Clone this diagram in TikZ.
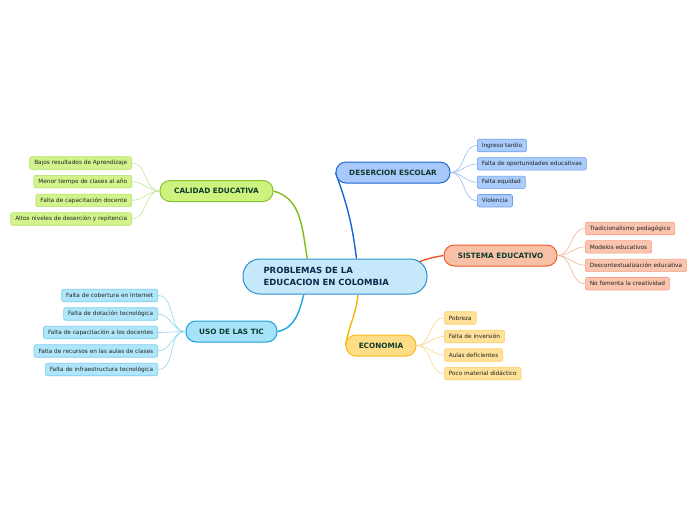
\documentclass[tikz,border=0pt]{standalone}
\usepackage{fontspec}
\setmainfont{DejaVu Sans}
\usetikzlibrary{positioning,backgrounds,calc}
\definecolor{hubFill}{HTML}{C5E9FA}
\definecolor{hubEdge}{HTML}{2F8ED0}
\definecolor{hubText}{HTML}{10294A}
\definecolor{topicText}{HTML}{0D3B2B}
\definecolor{leafText}{HTML}{222222}
% calidad
\definecolor{calFill}{HTML}{CDF27E}
\definecolor{calEdge}{HTML}{86C232}
\definecolor{calLeaf}{HTML}{D3F48C}
\definecolor{calLeafEdge}{HTML}{B2E067}
\definecolor{calWire}{HTML}{84BB1A}
\definecolor{calTwig}{HTML}{C5E39A}
% desercion
\definecolor{desFill}{HTML}{A6C8FA}
\definecolor{desEdge}{HTML}{2266D6}
\definecolor{desLeaf}{HTML}{A9CCFB}
\definecolor{desLeafEdge}{HTML}{6C9EEA}
\definecolor{desWire}{HTML}{1565D8}
\definecolor{desTwig}{HTML}{9ABDEE}
% sistema
\definecolor{sisFill}{HTML}{F9C0A8}
\definecolor{sisEdge}{HTML}{EE5B2B}
\definecolor{sisLeaf}{HTML}{FAC4AF}
\definecolor{sisLeafEdge}{HTML}{F2A184}
\definecolor{sisWire}{HTML}{F25522}
\definecolor{sisTwig}{HTML}{F5B39A}
% tic
\definecolor{ticFill}{HTML}{A6E2F8}
\definecolor{ticEdge}{HTML}{1E9FDD}
\definecolor{ticLeaf}{HTML}{B0E6F9}
\definecolor{ticLeafEdge}{HTML}{7ECDEE}
\definecolor{ticWire}{HTML}{18A3E2}
\definecolor{ticTwig}{HTML}{8FD5F2}
% economia
\definecolor{ecoFill}{HTML}{FFDC86}
\definecolor{ecoEdge}{HTML}{F8BA1C}
\definecolor{ecoLeaf}{HTML}{FFE199}
\definecolor{ecoLeafEdge}{HTML}{FAD06A}
\definecolor{ecoWire}{HTML}{F7B500}
\definecolor{ecoTwig}{HTML}{FBD78A}

\tikzset{
  hub/.style={draw=hubEdge, fill=hubFill, line width=1pt, rounded corners=17pt,
    minimum height=35pt, text width=143pt, inner xsep=20.5pt, align=left,
    font=\bfseries\fontsize{8.5}{11.5}\selectfont, text=hubText},
  topic/.style 2 args={draw=#2, fill=#1, line width=1pt, rounded corners=10pt,
    minimum height=21pt, inner xsep=6pt, inner ysep=0pt,
    font=\bfseries\fontsize{7.3}{8}\selectfont, text=topicText},
  leaf/.style 2 args={draw=#2, fill=#1, line width=0.6pt, rounded corners=2pt,
    minimum height=12.5pt, inner xsep=4.5pt, inner ysep=0pt,
    font=\fontsize{5.8}{7}\selectfont, text=leafText},
  wire/.style={draw=#1, line width=1.4pt},
  twig/.style={draw=#1, line width=0.6pt},
}

\begin{document}
\begin{tikzpicture}[x=1pt,y=-1pt]
\begin{scope}[on background layer]
  \path[use as bounding box, fill=white] (0,0) rectangle (696,520);
\end{scope}

\node[hub] (central) at (335,276.5) {PROBLEMAS DE LA\\EDUCACION EN COLOMBIA};

\node[topic={calFill}{calEdge}, minimum width=113pt] (calidad) at (216.5,191) {CALIDAD EDUCATIVA};
\node[topic={desFill}{desEdge}, minimum width=114pt] (desercion) at (393,172.5) {DESERCION ESCOLAR};
\node[topic={sisFill}{sisEdge}, minimum width=113pt] (sistema) at (500.5,255.5) {SISTEMA EDUCATIVO};
\node[topic={ticFill}{ticEdge}, minimum width=91pt] (tic) at (231.5,331.5) {USO DE LAS TIC};
\node[topic={ecoFill}{ecoEdge}, minimum width=70pt] (economia) at (381,345.5) {ECONOMIA};

% main branches, behind the boxes
\begin{scope}[on background layer]
  \draw[wire=calWire] (central.147) to[out=100,in=-15] (calidad.east);
  \draw[wire=desWire] (central.40) to[out=97,in=-70] (desercion.west);
  \draw[wire=sisWire] ($(central.east)+(-10,-14)$) to[out=22,in=190] (sistema.west);
  \draw[wire=ticWire] (central.210) to[out=-105,in=10] (tic.east);
  \draw[wire=ecoWire] (central.-38) to[out=-96,in=80] (economia.west);
\end{scope}

% calidad educativa
\foreach [count=\i from 0] \lab in {Bajos resultados de Aprendizaje,Menor tiempo de clases al año,
    Falta de capacitación docente,Altos niveles de deserción y repitencia} {
  \pgfmathsetmacro{\y}{163+18.67*\i}
  \node[leaf={calLeaf}{calLeafEdge}, anchor=east] (cal\i) at (132,\y) {\lab};
  \draw[twig=calTwig] (calidad.west) to[out=180,in=0] (cal\i.east);
}

% desercion escolar
\foreach [count=\i from 0] \lab in {Ingreso tardío,Falta de oportunidades educativas,
    Falta equidad,Violencia} {
  \pgfmathsetmacro{\y}{145.5+18.4*\i}
  \node[leaf={desLeaf}{desLeafEdge}, anchor=west] (des\i) at (477,\y) {\lab};
  \draw[twig=desTwig] (desercion.east) to[out=0,in=180] (des\i.west);
}

% sistema educativo
\foreach [count=\i from 0] \lab in {Tradicionalismo pedagógico,Modelos educativos,
    Descontextualización educativa,No fomenta la creatividad} {
  \pgfmathsetmacro{\y}{228.5+18.4*\i}
  \node[leaf={sisLeaf}{sisLeafEdge}, anchor=west] (sis\i) at (585,\y) {\lab};
  \draw[twig=sisTwig] (sistema.east) to[out=0,in=180] (sis\i.west);
}

% uso de las tic
\foreach [count=\i from 0] \lab in {Falta de cobertura en Internet,Falta de dotación tecnológica,
    Falta de capacitación a los docentes,Falta de recursos en las aulas de clases,
    Falta de infraestructura tecnológica} {
  \pgfmathsetmacro{\y}{295.5+18.5*\i}
  \node[leaf={ticLeaf}{ticLeafEdge}, anchor=east] (tic\i) at (158,\y) {\lab};
  \draw[twig=ticTwig] (tic.west) to[out=180,in=0] (tic\i.east);
}

% economia
\foreach [count=\i from 0] \lab in {Pobreza,Falta de inversión,Aulas deficientes,
    Poco material didáctico} {
  \pgfmathsetmacro{\y}{318+18.5*\i}
  \node[leaf={ecoLeaf}{ecoLeafEdge}, anchor=west] (eco\i) at (444,\y) {\lab};
  \draw[twig=ecoTwig] (economia.east) to[out=0,in=180] (eco\i.west);
}
\end{tikzpicture}
\end{document}
